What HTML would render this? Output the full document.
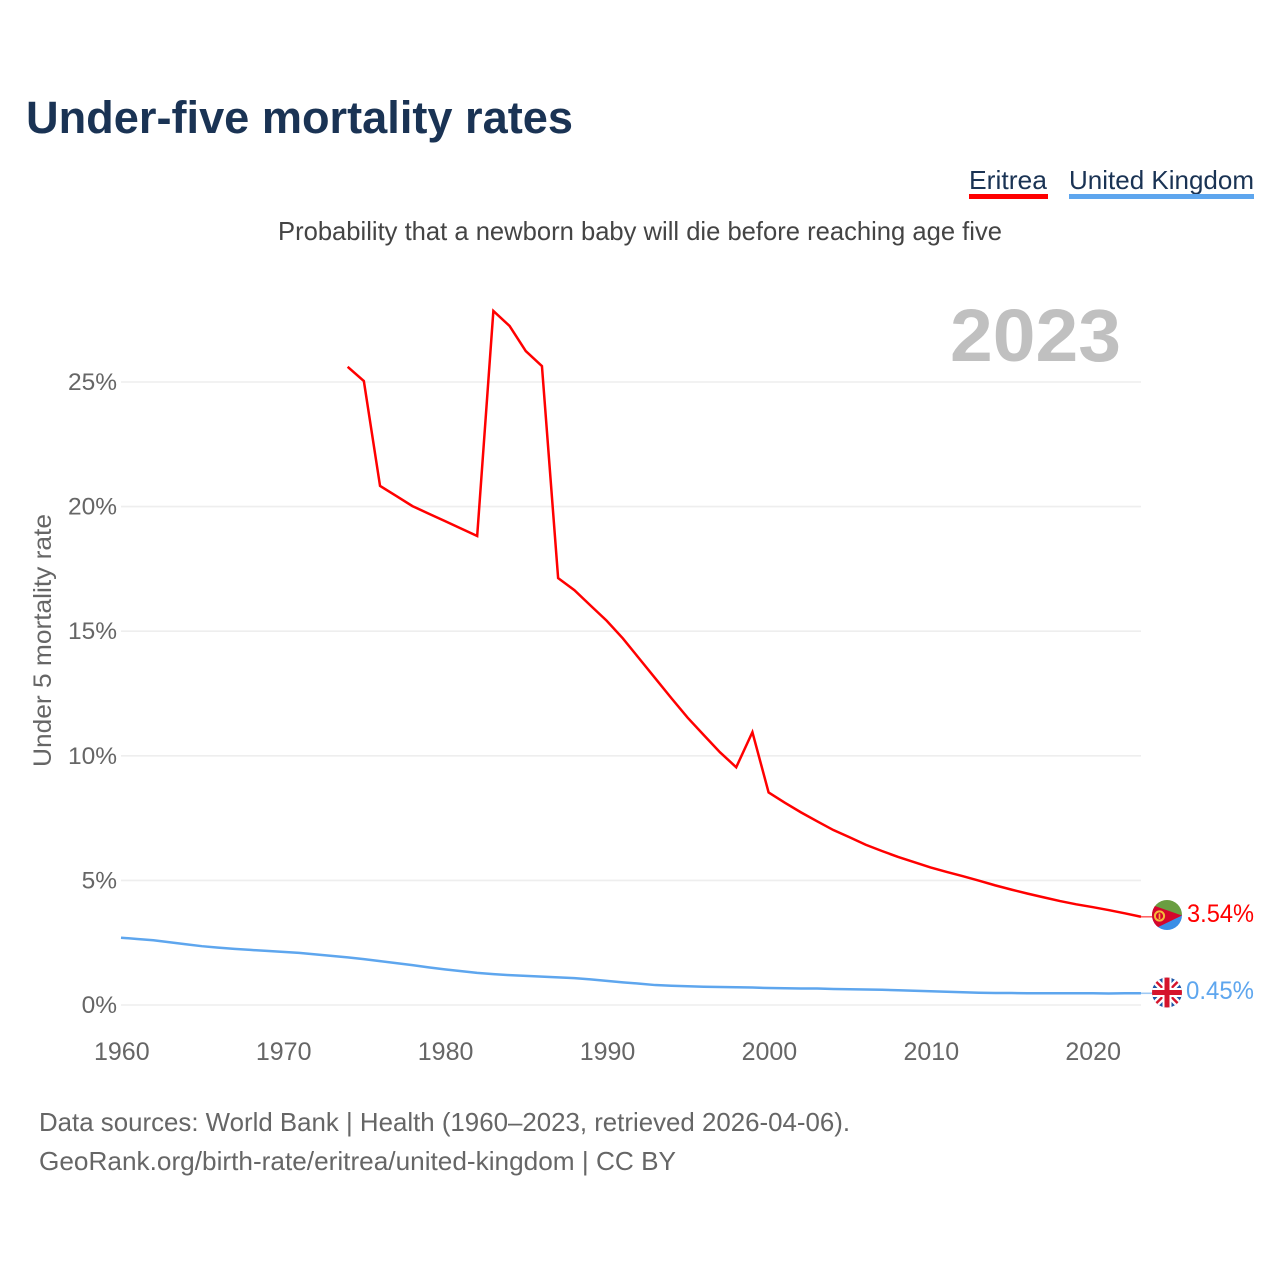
<!DOCTYPE html>
<html lang="en">
<head>
<meta charset="utf-8">
<title>Under-five mortality rates</title>
<style>
html,body{margin:0;padding:0;background:#fff;width:1280px;height:1280px;overflow:hidden}
svg{display:block;font-family:"Liberation Sans",sans-serif}
</style>
</head>
<body>
<svg id="chart" xmlns="http://www.w3.org/2000/svg" width="1280" height="1280" viewBox="0 0 1280 1280">
  <defs>
    <clipPath id="clip-er"><circle cx="1167" cy="915" r="15"/></clipPath>
    <clipPath id="clip-uk"><circle cx="1167" cy="992.5" r="15"/></clipPath>
  </defs>
  <text x="26" y="133" font-size="45" font-weight="700" fill="#1a3354" textLength="547" lengthAdjust="spacingAndGlyphs">Under-five mortality rates</text>

  <g>
    <text x="969" y="189" font-size="26" fill="#1a3354" textLength="78" lengthAdjust="spacingAndGlyphs">Eritrea</text>
    <rect x="969" y="194" width="79" height="5" fill="#ff0000"/>
  </g>
  <g>
    <text x="1069" y="189" font-size="26" fill="#1a3354" textLength="185" lengthAdjust="spacingAndGlyphs">United Kingdom</text>
    <rect x="1069" y="194" width="185" height="5" fill="#5ea6ee"/>
  </g>

  <text x="278" y="240" font-size="26" fill="#444444" textLength="724" lengthAdjust="spacingAndGlyphs">Probability that a newborn baby will die before reaching age five</text>

  <g id="grid"></g>
  <text x="950" y="361" font-size="74" font-weight="700" fill="#c0c0c0" textLength="171" lengthAdjust="spacingAndGlyphs">2023</text>
  <g id="yticks"></g>
  <g id="xticks"></g>
  <text transform="translate(51 767) rotate(-90)" x="0" y="0" font-size="25" fill="#666666" textLength="253" lengthAdjust="spacingAndGlyphs">Under 5 mortality rate</text>

  <g id="series"></g>

  <g>
    <g clip-path="url(#clip-er)">
      <rect x="1152" y="900" width="30" height="16" fill="#6a9e41"/>
      <rect x="1152" y="915" width="30" height="15" fill="#3a8ee6"/>
      <polygon points="1152,905 1182,915.5 1152,930" fill="#d5052c"/>
    </g>
    <circle cx="1159.5" cy="916" r="4.6" fill="none" stroke="#f5b93a" stroke-width="2"/>
    <line x1="1159.5" y1="913.5" x2="1159.5" y2="919" stroke="#f5b93a" stroke-width="1.6"/>
  </g>
  <g>
    <g clip-path="url(#clip-uk)">
      <rect x="1152" y="977" width="30" height="31" fill="#1b54a6"/>
      <line x1="1152" y1="977.5" x2="1182" y2="1007.5" stroke="#fff" stroke-width="7"/>
      <line x1="1182" y1="977.5" x2="1152" y2="1007.5" stroke="#fff" stroke-width="7"/>
      <line x1="1152" y1="977.5" x2="1182" y2="1007.5" stroke="#d5142c" stroke-width="2.5"/>
      <line x1="1182" y1="977.5" x2="1152" y2="1007.5" stroke="#d5142c" stroke-width="2.5"/>
      <rect x="1162.5" y="977" width="9" height="31" fill="#fff"/>
      <rect x="1152" y="988" width="30" height="9" fill="#fff"/>
      <rect x="1164.5" y="977" width="5" height="31" fill="#d5142c"/>
      <rect x="1152" y="990" width="30" height="5" fill="#d5142c"/>
    </g>
  </g>

  <text x="1187" y="922" font-size="25" fill="#ff0000" textLength="67" lengthAdjust="spacingAndGlyphs">3.54%</text>
  <text x="1186" y="999" font-size="25" fill="#5ea6ee" textLength="68" lengthAdjust="spacingAndGlyphs">0.45%</text>

  <text x="39" y="1131" font-size="26" fill="#666666" textLength="811" lengthAdjust="spacingAndGlyphs">Data sources: World Bank | Health (1960–2023, retrieved 2026-04-06).</text>
  <text x="39" y="1170" font-size="26" fill="#666666" textLength="637" lengthAdjust="spacingAndGlyphs">GeoRank.org/birth-rate/eritrea/united-kingdom | CC BY</text>
</svg>
<script>
const yTickValues = [0, 5, 10, 15, 20, 25];
const xTickValues = [1960, 1970, 1980, 1990, 2000, 2010, 2020];
const eritreaStartYear = 1974;
const eritreaValues = [25.61, 25.04, 20.83, 20.43, 20.02, 19.72, 19.42, 19.12, 18.82, 27.85, 27.25, 26.24, 25.64, 17.13, 16.65, 16.03, 15.42, 14.71, 13.91, 13.11, 12.31, 11.53, 10.83, 10.14, 9.54, 10.95, 8.53, 8.12, 7.73, 7.37, 7.02, 6.73, 6.43, 6.18, 5.94, 5.73, 5.52, 5.34, 5.17, 4.99, 4.8, 4.63, 4.47, 4.32, 4.17, 4.04, 3.93, 3.81, 3.68, 3.54];
const ukStartYear = 1960;
const ukValues = [2.7, 2.65, 2.6, 2.52, 2.44, 2.36, 2.3, 2.25, 2.21, 2.17, 2.13, 2.09, 2.03, 1.97, 1.91, 1.84, 1.76, 1.68, 1.6, 1.51, 1.43, 1.36, 1.29, 1.24, 1.2, 1.17, 1.14, 1.11, 1.08, 1.03, 0.97, 0.91, 0.86, 0.8, 0.77, 0.75, 0.73, 0.72, 0.71, 0.7, 0.68, 0.67, 0.66, 0.66, 0.64, 0.63, 0.62, 0.61, 0.59, 0.57, 0.55, 0.53, 0.51, 0.49, 0.48, 0.48, 0.47, 0.47, 0.47, 0.47, 0.47, 0.46, 0.47, 0.47];

const NS = 'http://www.w3.org/2000/svg';
function xScale(year) { return 121 + (year - 1960) * 16.19; }
function yScale(value) { return 1005 - value * 24.92; }
function make(tag, attrs, parent) {
  const el = document.createElementNS(NS, tag);
  for (const k in attrs) el.setAttribute(k, attrs[k]);
  parent.appendChild(el);
  return el;
}

const grid = document.getElementById('grid');
const yticks = document.getElementById('yticks');
const xticks = document.getElementById('xticks');
const series = document.getElementById('series');

yTickValues.forEach(function (v) {
  const line = make('line', { x1: xScale(1960), x2: xScale(2023), y1: yScale(v), y2: yScale(v), stroke: '#eeeeee', 'stroke-width': 1.6 }, grid);
  
  
  const label = make('text', { x: 117, y: yScale(v) + 8, 'text-anchor': 'end', 'font-size': 24.5, fill: '#666666' }, yticks);
  label.textContent = v + '%';
  
  
});

xTickValues.forEach(function (y) {
  const label = make('text', { x: xScale(y) + 0.8, y: 1060, 'text-anchor': 'middle', 'font-size': 25, fill: '#666666' }, xticks);
  label.textContent = String(y);
  
  
});

function drawSeries(values, startYear, color, name) {
  const pts = values.map(function (v, i) { return xScale(startYear + i).toFixed(2) + ',' + yScale(v).toFixed(2); });
  const line = make('polyline', { points: pts.join(' '), fill: 'none', stroke: color, 'stroke-width': 2.5, 'stroke-linejoin': 'miter' }, series);
  
  
  const last = values[values.length - 1];
  const conn = make('line', { x1: xScale(startYear + values.length - 1), x2: 1153, y1: yScale(last), y2: yScale(last), stroke: color, 'stroke-width': 1.6, opacity: 0.6 }, series);
  
  
}
drawSeries(ukValues, ukStartYear, '#5ea6ee', 'united-kingdom');
drawSeries(eritreaValues, eritreaStartYear, '#ff0000', 'eritrea');
</script>
</body>
</html>
